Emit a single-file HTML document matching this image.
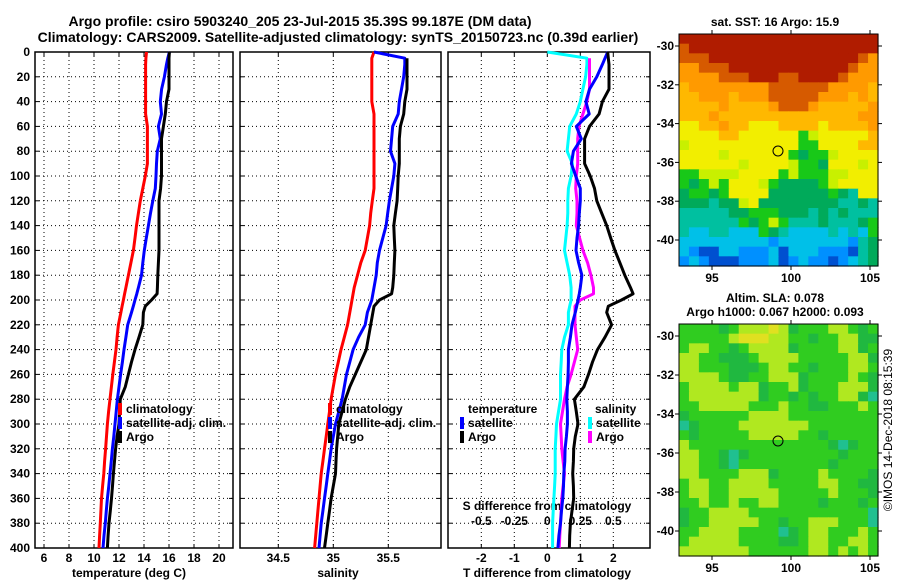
<!DOCTYPE html>
<html><head><meta charset="utf-8"><style>
body{margin:0;background:#fff;}
svg{display:block;font-family:"Liberation Sans",sans-serif;font-weight:bold;}
</style></head><body>
<svg id="chart" width="900" height="580" viewBox="0 0 900 580"></svg>
<script>
const depths=[0,5,10,20,30,40,50,60,70,80,90,100,110,120,130,140,150,160,170,180,190,195,200,205,210,220,230,240,250,260,270,280,290,300,310,320,330,340,350,360,370,380,390,400];
const tempClim=[14.2,14.15,14.13,14.13,14.13,14.13,14.13,14.27,14.27,14.27,14.27,14.1,13.9,13.7,13.55,13.4,13.28,13.15,12.95,12.75,12.55,12.45,12.35,12.25,12.15,11.95,11.85,11.76,11.63,11.5,11.39,11.28,11.17,11.07,11.0,10.93,10.85,10.78,10.69,10.6,10.55,10.5,10.45,10.4];
const tempSat=[16.03,15.9,15.8,15.63,15.41,15.3,15.4,15.15,15.3,15.06,15.0,14.96,14.9,14.7,14.52,14.35,14.18,14.02,13.9,13.8,13.55,13.42,13.28,13.14,13.0,12.7,12.55,12.4,12.27,12.13,12.0,11.87,11.78,11.68,11.58,11.47,11.38,11.28,11.18,11.07,10.98,10.9,10.8,10.72];
const tempArgo=[16.03,16.0,16.0,16.0,16.0,15.8,15.7,15.55,15.4,15.4,15.4,15.4,15.33,15.2,15.2,15.2,15.2,15.2,15.15,15.1,15.07,15.05,14.6,14.1,13.95,13.9,13.6,13.28,13.0,12.75,12.5,12.1,12.05,12.0,11.85,11.73,11.64,11.55,11.48,11.4,11.3,11.2,11.13,11.07];
const salClim=[35.37,35.35,35.35,35.35,35.35,35.35,35.37,35.37,35.37,35.37,35.37,35.37,35.37,35.355,35.34,35.33,35.31,35.29,35.25,35.22,35.19,35.18,35.17,35.16,35.15,35.13,35.1,35.07,35.045,35.02,35.0,34.98,34.965,34.95,34.935,34.92,34.905,34.89,34.88,34.87,34.86,34.85,34.84,34.83];
const salSat=[35.37,35.65,35.65,35.64,35.62,35.6,35.59,35.54,35.53,35.52,35.56,35.55,35.53,35.51,35.495,35.48,35.45,35.42,35.4,35.39,35.37,35.36,35.35,35.33,35.31,35.29,35.23,35.18,35.15,35.12,35.1,35.08,35.05,35.02,35.0,34.98,34.965,34.95,34.935,34.92,34.905,34.89,34.88,34.87];
const salArgo=[null,35.67,35.67,35.67,35.67,35.65,35.64,35.61,35.6,35.6,35.6,35.59,35.585,35.58,35.565,35.55,35.555,35.56,35.555,35.55,35.54,35.53,35.42,35.37,35.36,35.34,35.32,35.3,35.25,35.2,35.15,35.11,35.08,35.05,35.04,35.03,35.025,35.02,35.0,34.98,34.965,34.95,34.935,34.92];
const depthTicks=[0,20,40,60,80,100,120,140,160,180,200,220,240,260,280,300,320,340,360,380,400];
const tempTicks=[6,8,10,12,14,16,18,20];
const salTicks=[34.5,35,35.5];
const dTTicks=[-2,-1,0,1,2];
const dSTicks=[-0.5,-0.25,0,0.25,0.5];
const dSLabels=["-0.5","-0.25","0","0.25","0.5"];
const latTicks=[-30,-32,-34,-36,-38,-40];
const lonTicks=[95,100,105];
const sstRows=[
"RRRRRRRRRRRRRRRRRRRR","rRRRRRRRRRRRRRRRRRRR","rrrRRRRRRRRRRRRRRRro","oorrrRRRRRRRRRRRRroo",
"oooorrrRRRrrRRRRrooo","OoooooooorrrrrrooooO","OOoooOooorrrrroooOoO","OOOOoOOOOorrroOOOOOo",
"OOOoOOOOOOOOOOOOOOoo","yyOOoOOyyyOOOOyOOOOo","yyyyOOyyyyyyglyyyyyO","lyyyyyyyyyyyggyyyyOO",
"yyyylyyyyyygGgglyyyy","yyyyyylyyyylggGyyyly","ggllllyyyyglgggllyyy","gGglgyyylgGGGGglyyyy",
"GggGgyyyyGGGGGGgGtyy","GGGtGGlyGGGGGGGGttGt","tttttGGgggGGGtGtGttt","ttttttgGglgtttGtttGg",
"tccttcccgGtcccctctcg","cccccccccbcccccccbtG","cbBBccbbbcBcccbbbBtG","bcbBBBbbbcBbcbbBbctG"];
const slaRows=[
"ggggGgyyyYyGgggyygGg","gggggyYYYyyggGggyyGG","gyyggGgyyyyGggggyyGg","yyggGGGgyyyygggggyyG",
"yygggGGGgyyggGgggyyg","yyyygGGggyyyGggggygG","gyyyygyyGggyGgggyyyG","gyyyyyyyGggGgGggyyGc",
"ggyyyyygggyggGGgggyg","Gggggggyyyyggggggggg","cGggggyyyyyyyggggggg","gGgggggyyyyyggGggggg",
"yggggggggggggggGcGgg","yyggGcGgggggggggGggg","yyggGcgggggggggGgggg","yyggggyyyGggggyggggG",
"gyyggyyyygggggyyggGG","gyyggyyyyygggggygggG","ggyggyggyyggggGgggGg","Gggyyyyggggggggggggc",
"GggyyyyyggGggyyygggc","ggyyyyggggcGgyygggyg","gyyyyyggggGGgyyggyyg","yyyyyyyggggggyygygyg"];
const sstColors={R:"#b01c00",r:"#d65a00",o:"#ff9a00",O:"#ffb800",y:"#f2ee00",l:"#c8f000",g:"#18c818",G:"#00aa5a",t:"#00c0a0",c:"#00c0e8",b:"#0090ff",B:"#0050d0"};
const slaColors={g:"#30cc20",G:"#20b840",y:"#b0e820",Y:"#e0e020",c:"#20c090"};

const svg=document.getElementById('chart');
const NS="http://www.w3.org/2000/svg";
function mk(tag,attrs,parent){const e=document.createElementNS(NS,tag);for(const k in attrs)e.setAttribute(k,attrs[k]);(parent||svg).appendChild(e);return e;}
function txt(x,y,s,anchor,size,parent){const t=mk('text',{x:x,y:y,'text-anchor':anchor||'start','font-size':size||12},parent);t.textContent=s;return t;}

const yTop=52,yBot=548;
const yD=d=>yTop+(d/400)*(yBot-yTop);
const panels=[
 {name:'temperature-panel',x0:35,x1:233,sc:v=>44+(v-6)*12.5},
 {name:'salinity-panel',x0:240,x1:441,sc:v=>278.3+(v-34.5)*110},
 {name:'difference-panel',x0:448,x1:650,sc:v=>547.3+v*33}
];
let t=txt(300,26,'Argo profile: csiro 5903240_205 23-Jul-2015 35.39S 99.187E (DM data)','middle',14);

t=txt(338,42,'Climatology: CARS2009. Satellite-adjusted climatology: synTS_20150723.nc (0.39d earlier)','middle',14);


panels.forEach((p,i)=>{
  const g=mk('g',{});
  
  
  depthTicks.forEach(d=>{
    if(d>0&&d<400){const l=mk('line',{x1:p.x0,x2:p.x1,y1:yD(d),y2:yD(d),stroke:'#000','stroke-width':1,'stroke-dasharray':'1,3'},g);
    }
    mk('line',{x1:p.x0,x2:p.x0+4,y1:yD(d),y2:yD(d),stroke:'#000'},g);
    mk('line',{x1:p.x1-4,x2:p.x1,y1:yD(d),y2:yD(d),stroke:'#000'},g);
  });
  const ticks=i===0?tempTicks:i===1?salTicks:dTTicks;
  ticks.forEach(v=>{
    const x=p.sc(v);
    const l=mk('line',{x1:x,x2:x,y1:yTop,y2:yBot,stroke:'#000','stroke-width':1,'stroke-dasharray':'1,3'},g);
    
    mk('line',{x1:x,x2:x,y1:yBot-4,y2:yBot,stroke:'#000'},g);
    mk('line',{x1:x,x2:x,y1:yTop,y2:yTop+4,stroke:'#000'},g);
    const tl=txt(x,562,String(v),'middle',12,g);
    
  });
  const fr=mk('rect',{x:p.x0,y:yTop,width:p.x1-p.x0,height:yBot-yTop,fill:'none',stroke:'#000','stroke-width':1.5},g);
  
});
depthTicks.forEach(d=>{const l=txt(30,yD(d)+4,String(d),'end',12);
});
t=txt(129,577,'temperature (deg C)','middle',12);
t=txt(338,577,'salinity','middle',12);
t=txt(547,577,'T difference from climatology','middle',12);
t=txt(547,510,'S difference from climatology','middle',12);
dSTicks.forEach((v,k)=>{const l=txt(panels[2].sc(v*4),525,dSLabels[k],'middle',12);
});

function line(vals,sc,color,name){
  let d='';let started=false;
  vals.forEach((v,k)=>{if(v===null||v===undefined)return;d+=(started?'L':'M')+sc(v).toFixed(1)+','+yD(depths[k]).toFixed(1);started=true;});
  const pth=mk('path',{d:d,fill:'none',stroke:color,'stroke-width':3,'stroke-linejoin':'round'});
  
  
}
const P=panels;
line(tempClim,P[0].sc,'#ff0000','temp-climatology-line');
line(tempSat,P[0].sc,'#0000ff','temp-satellite-line');
line(tempArgo,P[0].sc,'#000000','temp-argo-line');
line(salClim,P[1].sc,'#ff0000','sal-climatology-line');
line(salSat,P[1].sc,'#0000ff','sal-satellite-line');
line(salArgo,P[1].sc,'#000000','sal-argo-line');
const dTs=tempSat.map((v,k)=>v-tempClim[k]);
const dTa=tempArgo.map((v,k)=>v-tempClim[k]);
const dSs=salSat.map((v,k)=>(v-salClim[k])*4);
const dSa=salArgo.map((v,k)=>v===null?null:(v-salClim[k])*4);
line(dSs,P[2].sc,'#00ffff','sal-diff-satellite-line');
line(dSa,P[2].sc,'#ff00ff','sal-diff-argo-line');
line(dTs,P[2].sc,'#0000ff','temp-diff-satellite-line');
line(dTa,P[2].sc,'#000000','temp-diff-argo-line');

function legendEntry(x,y,color,label,name){
  const g=mk('g',{});
  
  
  mk('rect',{x:x-2,y:y-10,width:4,height:12,fill:color},g);
  txt(x+6,y,label,'start',12,g);
}
legendEntry(120,413,'#ff0000','climatology','legend-climatology');
legendEntry(120,427,'#0000ff','satellite-adj. clim.','legend-satellite');
legendEntry(120,441,'#000000','Argo','legend-argo');
legendEntry(330,413,'#ff0000','climatology','legend-sal-climatology');
legendEntry(330,427,'#0000ff','satellite-adj. clim.','legend-sal-satellite');
legendEntry(330,441,'#000000','Argo','legend-sal-argo');
t=txt(468,413,'temperature','start',12);
t=txt(595,413,'salinity','start',12);
legendEntry(462,427,'#0000ff','satellite','legend-tdiff-satellite');
legendEntry(462,441,'#000000','Argo','legend-tdiff-argo');
legendEntry(590,427,'#00ffff','satellite','legend-sdiff-satellite');
legendEntry(590,441,'#ff00ff','Argo','legend-sdiff-argo');

function map(rows,colors,x0,y0,x1,y1,latY,name,titleLines,titleYs,lonY,mx,my){
  const g=mk('g',{});
  
  
  const nr=rows.length,nc=rows[0].length,cw=(x1-x0)/nc,ch=(y1-y0)/nr;
  rows.forEach((r,i)=>{for(let j=0;j<nc;j++){
    const c=mk('rect',{x:(x0+j*cw).toFixed(2),y:(y0+i*ch).toFixed(2),width:(cw+0.6).toFixed(2),height:(ch+0.6).toFixed(2),fill:colors[r[j]]},g);
    
  }});
  mk('rect',{x:x0,y:y0,width:x1-x0,height:y1-y0,fill:'none',stroke:'#000','stroke-width':1},g);
  const lonX=v=>712+(v-95)*15.8;
  lonTicks.forEach(v=>{mk('line',{x1:lonX(v),x2:lonX(v),y1:y1,y2:y1+4,stroke:'#000'},g);
    mk('line',{x1:lonX(v),x2:lonX(v),y1:y0-4,y2:y0,stroke:'#000'},g);
    const l=txt(lonX(v),lonY,String(v),'middle',12,g);});
  latTicks.forEach(v=>{const y=latY(v);mk('line',{x1:x0-4,x2:x0,y1:y,y2:y,stroke:'#000'},g);
    mk('line',{x1:x1,x2:x1+4,y1:y,y2:y,stroke:'#000'},g);
    const l=txt(674,y+4,String(v),'end',12,g);});
  titleLines.forEach((s,k)=>{const l=txt(775,titleYs[k],s,'middle',12,g);});
  const m=mk('circle',{cx:mx,cy:my,r:5,fill:'none',stroke:'#000','stroke-width':1},g);
  
}
map(sstRows,sstColors,679,34,878,266,v=>46+(-30-v)*19.4,'sst-map',['sat. SST: 16 Argo: 15.9'],[26],282,778,151);
map(slaRows,slaColors,679,324,878,556,v=>336+(-30-v)*19.5,'sla-map',['Altim. SLA: 0.078','Argo h1000: 0.067 h2000: 0.093'],[302,316],572,778,441);
t=txt(0,0,'©IMOS 14-Dec-2018 08:15:39','middle',12);
t.setAttribute('transform','translate(892,430) rotate(-90)');
t.setAttribute('font-weight','normal');

</script>
</body></html>
